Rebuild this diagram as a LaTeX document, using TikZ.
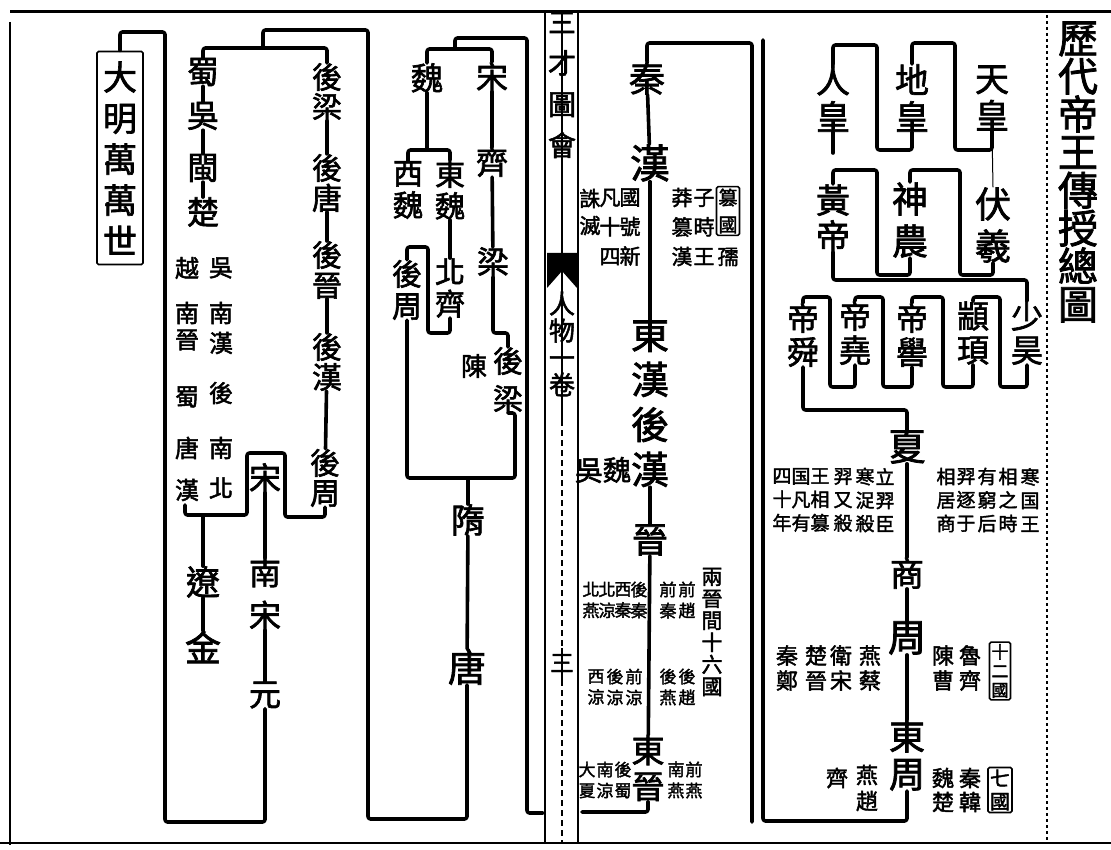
\documentclass[tikz,border=0pt]{standalone}
\usepackage{fontspec}
\setmainfont{Noto Sans CJK TC}[AutoFakeBold=2]
\usepackage{tikz}

\newcommand\vfont[2]{\fontsize{#1}{#2}\selectfont\bfseries\lineskiplimit-100pt\relax}

\tikzset{
  txt/.style 2 args={inner sep=0pt, align=center, font={\vfont{#1}{#2}}},
  link/.style={line width=3.6pt, line cap=round, line join=round, rounded corners=2.5pt},
  thinlink/.style={line width=1pt},
  rule/.style={line width=1.2pt},
  boxed/.style={draw, line width=1.6pt, inner sep=2pt, rounded corners=1.5pt},
}

\begin{document}
\begin{tikzpicture}[x=1pt,y=-1pt]
\useasboundingbox (0,0) rectangle (1111,850);

% Page frame
\draw[line width=3pt] (10,12) -- (1111,12);
\draw[line width=2.5pt] (10,22) -- (10,845);
\draw[line width=2.5pt] (0,843) -- (1111,843);
\draw[rule, dashed] (1047,15) -- (1047,843);

% Fold
\draw[rule] (545,12) -- (545,843);
\draw[rule] (578,12) -- (578,843);
\draw[rule] (562,12) -- (562,420);
\draw[rule, dash pattern=on 6pt off 4pt] (562,420) -- (562,843);
\fill (547,253) -- (577,253) -- (577,288) -- (562,271) -- (547,288) -- cycle;
\node[txt={28}{41}] (sancai) at (562,85) {三\\才\\圖\\會};
\node[txt={26}{27}] (juan) at (562,344) {人\\物\\一\\卷};
\node[txt={24}{24}] (pagenum) at (562,663) {三};
\draw[rule] (562,648) -- (562,680);

% Title
\node[txt={40}{38}] (title) at (1078,172) {歷\\代\\帝\\王\\傳\\授\\總\\圖};

% Three sovereigns and five emperors
\node[txt={34}{37}] (tianhuang) at (992,98) {天\\皇};
\node[txt={34}{37}] (dihuang) at (912,98) {地\\皇};
\node[txt={34}{37}] (renhuang) at (833,98) {人\\皇};
\node[txt={36}{42}] (fuxi) at (993,225) {伏\\羲};
\node[txt={36}{42}] (shennong) at (910,220) {神\\農};
\node[txt={34}{36}] (huangdi) at (833,218) {黃\\帝};
\node[txt={32}{34}] (shaohao) at (1027,333) {少\\昊};
\node[txt={32}{34}] (zhuanxu) at (973,333) {顓\\頊};
\node[txt={32}{34}] (diku) at (912,335) {帝\\嚳};
\node[txt={32}{34}] (diyao) at (855,333) {帝\\堯};
\node[txt={32}{34}] (dishun) at (803,335) {帝\\舜};

\draw[link] (tianhuang.south) |- (955,150) -- (955,43) -| (dihuang.north);
\draw[link] (dihuang.south) |- (877,150) -- (877,45) -| (renhuang.north);
\draw[link] (renhuang.south) -- (833,153);
\draw[thinlink] (tianhuang.south) -- (fuxi.north);
\draw[link] (fuxi.south) |- (960,275) -- (960,170) -| (shennong.north);
\draw[link] (shennong.south) |- (877,275) -- (877,170) -| (huangdi.north);
\draw[link] (huangdi.south) -- (833,280) -| (shaohao.north);
\draw[link] (shaohao.south) |- (1000,387) -- (1000,297) -| (zhuanxu.north);
\draw[link] (zhuanxu.south) |- (943,387) -- (943,297) -| (diku.north);
\draw[link] (diku.south) |- (883,387) -- (883,297) -| (diyao.north);
\draw[link] (diyao.south) |- (830,387) -- (830,297) -| (dishun.north);

% Xia, Shang, Zhou
\node[txt={38}{38}] (xia) at (907,447) {夏};
\node[txt={34}{34}] (shang) at (907,573) {商};
\node[txt={38}{38}] (zhou) at (907,638) {周};
\node[txt={36}{38}] (dongzhou) at (907,755) {東\\周};
\draw[link] (dishun.south) -- (803,410) -| (xia.north);
\draw[link] (xia) -- (shang);
\draw[link] (shang) -- (zhou);
\draw[link] (zhou) -- (dongzhou);
\coordinate (zhouEnd) at (763,40);
\draw[link] (dongzhou.south) |- (763,821) -- (zhouEnd);

\foreach \x/\a/\b/\c [count=\i] in {885/立/羿/臣, 865/寒/浞/殺, 843/羿/又/殺, 820/王/相/篡, 801/国/凡/有, 782/四/十/年}
  \node[txt={19}{23.5}] (xiaL\i) at (\x,500) {\a\\\b\\\c};
\foreach \x/\a/\b/\c [count=\i] in {1030/寒/国/王, 1008/相/之/時, 987/有/窮/后, 966/羿/逐/于, 946/相/居/商}
  \node[txt={19}{23.5}] (xiaR\i) at (\x,500) {\a\\\b\\\c};

\node[txt={17}{19}, boxed] (shier) at (1000,671) {十\\二\\國};
\foreach \x/\a/\b [count=\i] in {970/魯/齊, 943/陳/曹, 870/燕/蔡, 841/衛/宋, 816/楚/晉, 787/秦/鄭}
  \node[txt={22}{25}] (shierC\i) at (\x,668) {\a\\\b};
\node[txt={20}{23}, boxed] (qiguo) at (1000,790) {七\\國};
\foreach \x/\a/\b [count=\i] in {970/秦/韓, 943/魏/楚}
  \node[txt={22}{24}] (qiC\i) at (\x,790) {\a\\\b};
\node[txt={22}{26}] (qiC3) at (867,788) {燕\\趙};
\node[txt={22}{22}] (qiC4) at (837,778) {齊};

% Qin, Han, Jin
\node[txt={36}{36}] (qin) at (647,78) {秦};
\node[txt={40}{40}] (han) at (650,163) {漢};
\node[txt={38}{45}] (donghan) at (650,357) {東\\漢};
\node[txt={38}{45}] (houhan) at (650,447) {後\\漢};
\node[txt={28}{28}] (wuwei) at (603,470) {吳魏};
\node[txt={36}{36}] (jin) at (650,540) {晉};
\node[txt={33}{36}] (dongjin) at (648,768) {東\\晉};
\coordinate (qinEnd) at (752,822);
\draw[link] (qinEnd) -- (752,43) -| (qin.north);
\draw[link] (qin) -- (han);
\draw[link] (han) -- (donghan);
\draw[link] (houhan) -- (jin);
\draw[link] (jin) -- (dongjin);
\coordinate (jinEnd) at (582,812);
\draw[link] (dongjin.south) |- (jinEnd);

\node[txt={19}{27}, boxed] (cuanguo) at (728,211) {篡\\國};
\node[txt={21}{21}] (ru) at (728,257) {孺};
\node[txt={21}{29.5}] (hanR1) at (704,227) {子\\時\\王};
\node[txt={21}{29.5}] (hanR2) at (682,227) {莽\\篡\\漢};
\node[txt={21}{29.5}] (hanL1) at (630,227) {國\\號\\新};
\node[txt={21}{29.5}] (hanL2) at (610,227) {凡\\十\\四};
\node[txt={21}{27}] (hanL3) at (590,212) {誅\\滅};

\node[txt={21}{22}] (shiliu) at (712,632) {兩\\晉\\間\\十\\六\\國};
\foreach \x/\y/\a/\b [count=\i] in {687/600/前/趙, 668/600/前/秦, 687/687/後/趙, 668/687/後/燕,
    639/600/後/秦, 623/600/西/秦, 607/600/北/涼, 591/600/北/燕,
    634/687/前/涼, 615/687/後/涼, 596/687/西/涼,
    694/780/前/燕, 676/780/南/燕, 623/780/後/蜀, 605/780/南/涼, 587/780/大/夏}
  \node[txt={17}{21}] (guo\i) at (\x,\y) {\a\\\b};

% Song, Wei, Qi, Liang, Sui, Tang
\node[txt={32}{32}] (song) at (492,77) {宋};
\node[txt={32}{32}] (wei) at (427,78) {魏};
\node[txt={30}{32}] (xiwei) at (408,190) {西\\魏};
\node[txt={30}{32}] (dongwei) at (450,190) {東\\魏};
\node[txt={32}{32}] (qi) at (492,162) {齊};
\node[txt={32}{32}] (liang) at (493,262) {梁};
\node[txt={30}{32}] (beiqi) at (450,288) {北\\齊};
\node[txt={30}{32}] (houzhou) at (407,290) {後\\周};
\node[txt={26}{26}] (chen) at (474,366) {陳};
\node[txt={30}{38}] (houliang) at (508,380) {後\\梁};
\node[txt={34}{34}] (sui) at (468,520) {隋};
\node[txt={38}{38}] (tang) at (467,667) {唐};

\coordinate (songEnd) at (543,813);
\draw[link] (songEnd) -- (527,813) -- (527,38) -- (455,38) -- (455,49);
\draw[link] (wei.north) -- (427,49) -- (492,49) -- (song.north);
\draw[link] (wei.south) -- (427,150);
\draw[link] (xiwei.north) -- (408,150) -- (450,150) -- (dongwei.north);
\draw[link] (dongwei) -- (beiqi);
\draw[link] (beiqi.south) -- (450,333) -- (428,333) -- (428,247) -| (houzhou.north);
\draw[link] (song) -- (qi);
\draw[link] (qi) -- (liang);
\draw[link] (liang.south) |- (508,333) -- (houliang.north);
\draw[link] (houliang.south) -| (515,478) -| (houzhou.south);
\coordinate (suiTop) at (468,478);
\draw[link] (suiTop) -- (sui.north);
\draw[link] (sui) -- (tang);

% Five dynasties and ten kingdoms
\node[txt={30}{30}] (hliang) at (327,92) {後\\梁};
\node[txt={30}{30}] (htang) at (327,183) {後\\唐};
\node[txt={30}{30}] (hjin) at (327,270) {後\\晉};
\node[txt={30}{30}] (hhan) at (327,362) {後\\漢};
\node[txt={30}{30}] (hzhou) at (325,478) {後\\周};
\node[txt={32}{32}] (shu) at (203,72) {蜀};
\node[txt={32}{32}] (wu) at (203,116) {吳};
\node[txt={32}{32}] (min) at (203,168) {閩};
\node[txt={32}{32}] (chu) at (203,212) {楚};
\foreach \y/\c [count=\i] in {268/吳, 313/南, 343/漢, 393/後, 448/南, 488/北}
  \node[txt={24}{24}] (tenR\i) at (221,\y) {\c};
\foreach \y/\c [count=\i] in {268/越, 313/南, 340/晉, 397/蜀, 448/唐, 490/漢}
  \node[txt={24}{24}] (tenL\i) at (187,\y) {\c};

\draw[link] (tang.south) |- (368,819) -- (368,30) -- (263,30) -- (263,48);
\draw[link] (shu.north) -- (203,48) -- (327,48) -- (hliang.north);
\draw[link] (hliang) -- (htang);
\draw[link] (htang) -- (hjin);
\draw[link] (hjin) -- (hhan);
\draw[link] (hhan) -- (hzhou);
\draw[link] (shu) -- (wu);
\draw[link] (wu) -- (min);
\draw[link] (min) -- (chu);

% Song, Liao, Jin, Yuan
\node[txt={32}{32}] (songB) at (265,478) {宋};
\node[txt={32}{43}] (nansong) at (265,594) {南\\宋};
\node[txt={32}{32}] (yuan) at (265,695) {元};
\node[txt={34}{34}] (liao) at (203,582) {遼};
\node[txt={36}{36}] (jinB) at (203,647) {金};
\draw[link] (hzhou.south) -- (325,517) -- (285,517) -- (285,453) -- (247,453) -- (247,515) -- (185,515) -- (185,505);
\coordinate (liaoTop) at (203,515);
\draw[link] (liaoTop) -- (liao.north);
\draw[link] (liao) -- (jinB);
\draw[link] (songB) -- (nansong);
\draw[link] (nansong) -- (yuan);

% Ming
\node[txt={34}{41}, boxed, minimum width=46pt, minimum height=213pt] (daming) at (120,158) {大\\明\\萬\\萬\\世};
\draw[link] (yuan.south) -- (265,822) -- (165,822) -- (165,32) -- (120,32) -- (daming.north);

\end{tikzpicture}
\end{document}
